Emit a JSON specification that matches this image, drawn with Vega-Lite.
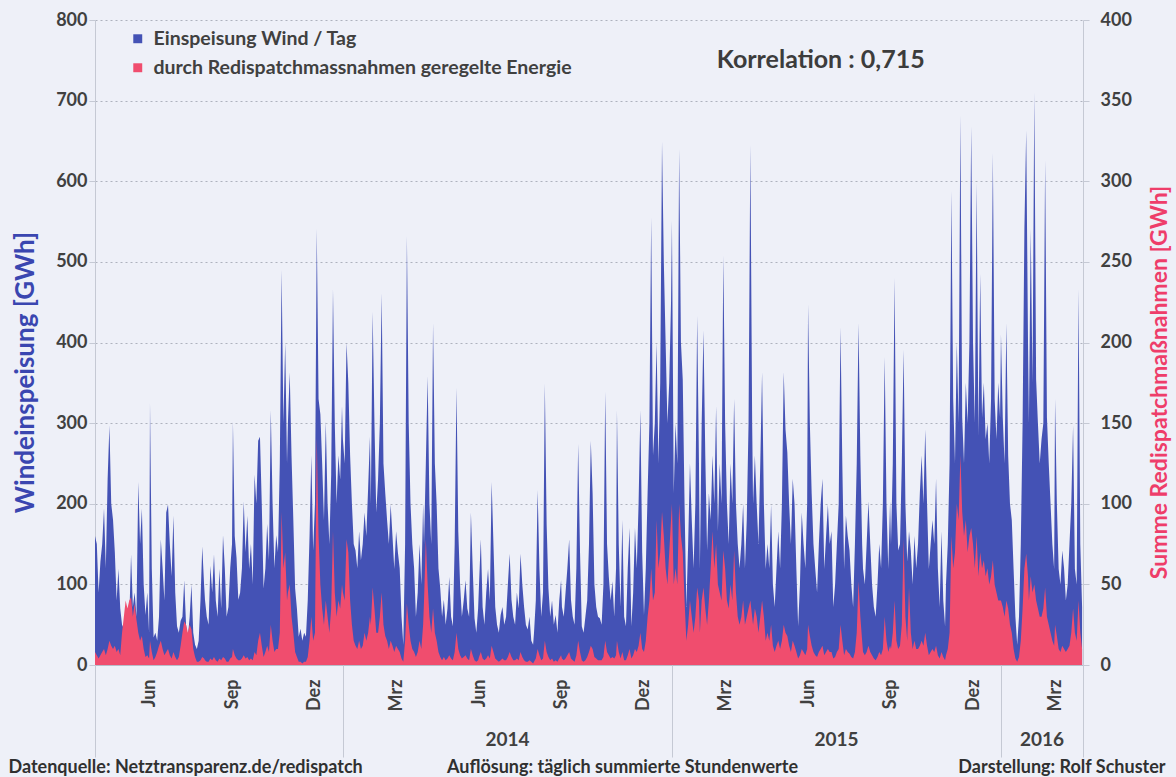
{
"$schema":"https://vega.github.io/schema/vega-lite/v6.json",
"width":988,"height":645,
"autosize":{"type":"none"},
"padding":{"left":95,"top":20,"right":93,"bottom":112},
"background":"#eef0f8",
"config":{"view":{"stroke":null},"font":"Lato","text":{"font":"Lato"}},
"datasets":{"s":[
{"d":"2013-04-01","w":160,"r":8},{"d":"2013-04-03","w":150,"r":6},{"d":"2013-04-05","w":90,"r":4},{"d":"2013-04-07","w":128,"r":6},{"d":"2013-04-09","w":150,"r":8},{"d":"2013-04-11","w":194,"r":10},{"d":"2013-04-13","w":120,"r":6},{"d":"2013-04-15","w":230,"r":10},{"d":"2013-04-17","w":297,"r":15},{"d":"2013-04-19","w":200,"r":12},{"d":"2013-04-21","w":180,"r":10},{"d":"2013-04-23","w":140,"r":12},{"d":"2013-04-25","w":80,"r":8},{"d":"2013-04-27","w":119,"r":10},{"d":"2013-04-29","w":70,"r":6},
{"d":"2013-05-01","w":50,"r":20},{"d":"2013-05-03","w":45,"r":30},{"d":"2013-05-05","w":60,"r":40},{"d":"2013-05-07","w":40,"r":35},{"d":"2013-05-09","w":55,"r":40},{"d":"2013-05-11","w":137,"r":42},{"d":"2013-05-13","w":72,"r":30},{"d":"2013-05-15","w":90,"r":38},{"d":"2013-05-17","w":60,"r":28},{"d":"2013-05-19","w":227,"r":20},{"d":"2013-05-21","w":150,"r":15},{"d":"2013-05-23","w":194,"r":18},{"d":"2013-05-25","w":100,"r":10},{"d":"2013-05-27","w":62,"r":5},{"d":"2013-05-29","w":90,"r":6},{"d":"2013-05-31","w":40,"r":4},
{"d":"2013-06-01","w":325,"r":15},{"d":"2013-06-03","w":120,"r":8},{"d":"2013-06-05","w":34,"r":3},{"d":"2013-06-07","w":40,"r":5},{"d":"2013-06-09","w":30,"r":8},{"d":"2013-06-11","w":60,"r":12},{"d":"2013-06-13","w":156,"r":15},{"d":"2013-06-15","w":120,"r":10},{"d":"2013-06-17","w":80,"r":6},{"d":"2013-06-19","w":189,"r":8},{"d":"2013-06-21","w":199,"r":10},{"d":"2013-06-23","w":150,"r":6},{"d":"2013-06-25","w":110,"r":4},{"d":"2013-06-27","w":185,"r":8},{"d":"2013-06-29","w":90,"r":5},
{"d":"2013-07-01","w":48,"r":3},{"d":"2013-07-03","w":40,"r":5},{"d":"2013-07-05","w":55,"r":12},{"d":"2013-07-07","w":60,"r":20},{"d":"2013-07-09","w":105,"r":27},{"d":"2013-07-11","w":50,"r":25},{"d":"2013-07-13","w":34,"r":20},{"d":"2013-07-15","w":60,"r":25},{"d":"2013-07-17","w":100,"r":22},{"d":"2013-07-19","w":40,"r":10},{"d":"2013-07-21","w":25,"r":5},{"d":"2013-07-23","w":20,"r":2},{"d":"2013-07-25","w":30,"r":2},{"d":"2013-07-27","w":80,"r":3},{"d":"2013-07-29","w":147,"r":5},{"d":"2013-07-31","w":100,"r":4},
{"d":"2013-08-01","w":81,"r":3},{"d":"2013-08-03","w":60,"r":2},{"d":"2013-08-05","w":50,"r":2},{"d":"2013-08-07","w":123,"r":4},{"d":"2013-08-09","w":90,"r":3},{"d":"2013-08-11","w":137,"r":5},{"d":"2013-08-13","w":80,"r":3},{"d":"2013-08-15","w":60,"r":2},{"d":"2013-08-17","w":119,"r":4},{"d":"2013-08-19","w":70,"r":3},{"d":"2013-08-21","w":161,"r":5},{"d":"2013-08-23","w":120,"r":4},{"d":"2013-08-25","w":60,"r":2},{"d":"2013-08-27","w":72,"r":2},{"d":"2013-08-29","w":120,"r":4},{"d":"2013-08-31","w":150,"r":5},
{"d":"2013-09-01","w":302,"r":10},{"d":"2013-09-03","w":160,"r":6},{"d":"2013-09-05","w":133,"r":4},{"d":"2013-09-07","w":81,"r":3},{"d":"2013-09-09","w":90,"r":3},{"d":"2013-09-11","w":120,"r":4},{"d":"2013-09-13","w":203,"r":6},{"d":"2013-09-15","w":140,"r":4},{"d":"2013-09-17","w":185,"r":5},{"d":"2013-09-19","w":119,"r":3},{"d":"2013-09-21","w":150,"r":4},{"d":"2013-09-23","w":100,"r":3},{"d":"2013-09-25","w":236,"r":8},{"d":"2013-09-27","w":200,"r":6},{"d":"2013-09-29","w":278,"r":15},
{"d":"2013-10-01","w":283,"r":20},{"d":"2013-10-03","w":200,"r":12},{"d":"2013-10-05","w":95,"r":5},{"d":"2013-10-07","w":120,"r":8},{"d":"2013-10-09","w":175,"r":12},{"d":"2013-10-11","w":130,"r":8},{"d":"2013-10-13","w":316,"r":25},{"d":"2013-10-15","w":200,"r":15},{"d":"2013-10-17","w":120,"r":8},{"d":"2013-10-19","w":161,"r":10},{"d":"2013-10-21","w":140,"r":10},{"d":"2013-10-23","w":250,"r":20},{"d":"2013-10-25","w":490,"r":95},{"d":"2013-10-27","w":300,"r":60},{"d":"2013-10-29","w":400,"r":70},{"d":"2013-10-31","w":250,"r":40},
{"d":"2013-11-01","w":300,"r":45},{"d":"2013-11-03","w":363,"r":50},{"d":"2013-11-05","w":260,"r":30},{"d":"2013-11-07","w":180,"r":20},{"d":"2013-11-09","w":95,"r":8},{"d":"2013-11-11","w":70,"r":5},{"d":"2013-11-13","w":35,"r":2},{"d":"2013-11-15","w":45,"r":2},{"d":"2013-11-17","w":30,"r":1},{"d":"2013-11-19","w":40,"r":2},{"d":"2013-11-21","w":35,"r":2},{"d":"2013-11-23","w":80,"r":5},{"d":"2013-11-25","w":160,"r":15},{"d":"2013-11-27","w":260,"r":30},{"d":"2013-11-29","w":142,"r":15},
{"d":"2013-12-01","w":200,"r":20},{"d":"2013-12-03","w":541,"r":141},{"d":"2013-12-05","w":330,"r":80},{"d":"2013-12-07","w":311,"r":50},{"d":"2013-12-09","w":250,"r":35},{"d":"2013-12-11","w":180,"r":25},{"d":"2013-12-13","w":302,"r":40},{"d":"2013-12-15","w":200,"r":30},{"d":"2013-12-17","w":150,"r":20},{"d":"2013-12-19","w":236,"r":35},{"d":"2013-12-21","w":466,"r":83},{"d":"2013-12-23","w":300,"r":45},{"d":"2013-12-25","w":200,"r":30},{"d":"2013-12-27","w":260,"r":40},{"d":"2013-12-29","w":230,"r":35},{"d":"2013-12-31","w":321,"r":50},
{"d":"2014-01-01","w":280,"r":45},{"d":"2014-01-03","w":250,"r":40},{"d":"2014-01-05","w":400,"r":78},{"d":"2014-01-07","w":350,"r":70},{"d":"2014-01-09","w":260,"r":40},{"d":"2014-01-11","w":200,"r":25},{"d":"2014-01-13","w":150,"r":15},{"d":"2014-01-15","w":142,"r":12},{"d":"2014-01-17","w":120,"r":10},{"d":"2014-01-19","w":166,"r":15},{"d":"2014-01-21","w":130,"r":10},{"d":"2014-01-23","w":150,"r":12},{"d":"2014-01-25","w":189,"r":20},{"d":"2014-01-27","w":160,"r":15},{"d":"2014-01-29","w":220,"r":20},{"d":"2014-01-31","w":283,"r":30},
{"d":"2014-02-01","w":200,"r":25},{"d":"2014-02-03","w":438,"r":48},{"d":"2014-02-05","w":300,"r":35},{"d":"2014-02-07","w":189,"r":20},{"d":"2014-02-09","w":230,"r":20},{"d":"2014-02-11","w":300,"r":30},{"d":"2014-02-13","w":461,"r":45},{"d":"2014-02-15","w":250,"r":25},{"d":"2014-02-17","w":213,"r":18},{"d":"2014-02-19","w":180,"r":15},{"d":"2014-02-21","w":150,"r":10},{"d":"2014-02-23","w":199,"r":15},{"d":"2014-02-25","w":160,"r":12},{"d":"2014-02-27","w":119,"r":8},
{"d":"2014-03-01","w":166,"r":12},{"d":"2014-03-03","w":140,"r":10},{"d":"2014-03-05","w":120,"r":8},{"d":"2014-03-07","w":60,"r":4},{"d":"2014-03-09","w":25,"r":2},{"d":"2014-03-11","w":150,"r":15},{"d":"2014-03-13","w":532,"r":38},{"d":"2014-03-15","w":300,"r":25},{"d":"2014-03-17","w":200,"r":15},{"d":"2014-03-19","w":150,"r":10},{"d":"2014-03-21","w":120,"r":8},{"d":"2014-03-23","w":60,"r":5},{"d":"2014-03-25","w":90,"r":8},{"d":"2014-03-27","w":150,"r":15},{"d":"2014-03-29","w":100,"r":10},{"d":"2014-03-31","w":200,"r":25},
{"d":"2014-04-01","w":150,"r":40},{"d":"2014-04-03","w":250,"r":78},{"d":"2014-04-05","w":358,"r":50},{"d":"2014-04-07","w":200,"r":30},{"d":"2014-04-09","w":150,"r":20},{"d":"2014-04-11","w":424,"r":35},{"d":"2014-04-13","w":250,"r":20},{"d":"2014-04-15","w":199,"r":15},{"d":"2014-04-17","w":120,"r":8},{"d":"2014-04-19","w":95,"r":5},{"d":"2014-04-21","w":60,"r":3},{"d":"2014-04-23","w":81,"r":5},{"d":"2014-04-25","w":50,"r":3},{"d":"2014-04-27","w":70,"r":4},{"d":"2014-04-29","w":109,"r":6},
{"d":"2014-05-01","w":60,"r":4},{"d":"2014-05-03","w":48,"r":3},{"d":"2014-05-05","w":150,"r":8},{"d":"2014-05-07","w":344,"r":20},{"d":"2014-05-09","w":166,"r":10},{"d":"2014-05-11","w":100,"r":6},{"d":"2014-05-13","w":60,"r":4},{"d":"2014-05-15","w":80,"r":5},{"d":"2014-05-17","w":105,"r":6},{"d":"2014-05-19","w":70,"r":4},{"d":"2014-05-21","w":60,"r":3},{"d":"2014-05-23","w":189,"r":10},{"d":"2014-05-25","w":120,"r":6},{"d":"2014-05-27","w":58,"r":3},{"d":"2014-05-29","w":40,"r":2},{"d":"2014-05-31","w":70,"r":3},
{"d":"2014-06-01","w":100,"r":5},{"d":"2014-06-03","w":156,"r":8},{"d":"2014-06-05","w":72,"r":4},{"d":"2014-06-07","w":50,"r":3},{"d":"2014-06-09","w":90,"r":4},{"d":"2014-06-11","w":119,"r":6},{"d":"2014-06-13","w":80,"r":4},{"d":"2014-06-15","w":227,"r":12},{"d":"2014-06-17","w":150,"r":8},{"d":"2014-06-19","w":72,"r":4},{"d":"2014-06-21","w":50,"r":3},{"d":"2014-06-23","w":40,"r":2},{"d":"2014-06-25","w":62,"r":3},{"d":"2014-06-27","w":72,"r":4},{"d":"2014-06-29","w":50,"r":3},
{"d":"2014-07-01","w":60,"r":3},{"d":"2014-07-03","w":100,"r":5},{"d":"2014-07-05","w":138,"r":8},{"d":"2014-07-07","w":81,"r":5},{"d":"2014-07-09","w":60,"r":3},{"d":"2014-07-11","w":50,"r":3},{"d":"2014-07-13","w":90,"r":4},{"d":"2014-07-15","w":70,"r":3},{"d":"2014-07-17","w":138,"r":8},{"d":"2014-07-19","w":100,"r":5},{"d":"2014-07-21","w":72,"r":3},{"d":"2014-07-23","w":50,"r":2},{"d":"2014-07-25","w":44,"r":2},{"d":"2014-07-27","w":60,"r":3},{"d":"2014-07-29","w":30,"r":2},{"d":"2014-07-31","w":25,"r":1},
{"d":"2014-08-01","w":40,"r":2},{"d":"2014-08-03","w":80,"r":4},{"d":"2014-08-05","w":217,"r":10},{"d":"2014-08-07","w":120,"r":6},{"d":"2014-08-09","w":60,"r":3},{"d":"2014-08-11","w":90,"r":4},{"d":"2014-08-13","w":349,"r":15},{"d":"2014-08-15","w":175,"r":8},{"d":"2014-08-17","w":95,"r":5},{"d":"2014-08-19","w":60,"r":3},{"d":"2014-08-21","w":80,"r":4},{"d":"2014-08-23","w":50,"r":2},{"d":"2014-08-25","w":62,"r":3},{"d":"2014-08-27","w":40,"r":2},{"d":"2014-08-29","w":80,"r":4},{"d":"2014-08-31","w":105,"r":6},
{"d":"2014-09-01","w":72,"r":4},{"d":"2014-09-03","w":60,"r":3},{"d":"2014-09-05","w":90,"r":4},{"d":"2014-09-07","w":120,"r":6},{"d":"2014-09-09","w":156,"r":8},{"d":"2014-09-11","w":81,"r":4},{"d":"2014-09-13","w":60,"r":3},{"d":"2014-09-15","w":50,"r":2},{"d":"2014-09-17","w":120,"r":6},{"d":"2014-09-19","w":274,"r":15},{"d":"2014-09-21","w":142,"r":8},{"d":"2014-09-23","w":48,"r":3},{"d":"2014-09-25","w":40,"r":2},{"d":"2014-09-27","w":60,"r":3},{"d":"2014-09-29","w":80,"r":5},
{"d":"2014-10-01","w":150,"r":8},{"d":"2014-10-03","w":278,"r":12},{"d":"2014-10-05","w":213,"r":10},{"d":"2014-10-07","w":100,"r":5},{"d":"2014-10-09","w":72,"r":4},{"d":"2014-10-11","w":60,"r":3},{"d":"2014-10-13","w":58,"r":3},{"d":"2014-10-15","w":50,"r":3},{"d":"2014-10-17","w":100,"r":5},{"d":"2014-10-19","w":339,"r":15},{"d":"2014-10-21","w":150,"r":8},{"d":"2014-10-23","w":109,"r":6},{"d":"2014-10-25","w":80,"r":4},{"d":"2014-10-27","w":104,"r":5},{"d":"2014-10-29","w":60,"r":4},{"d":"2014-10-31","w":120,"r":6},
{"d":"2014-11-01","w":316,"r":15},{"d":"2014-11-03","w":150,"r":8},{"d":"2014-11-05","w":72,"r":4},{"d":"2014-11-07","w":180,"r":8},{"d":"2014-11-09","w":60,"r":3},{"d":"2014-11-11","w":48,"r":3},{"d":"2014-11-13","w":120,"r":6},{"d":"2014-11-15","w":170,"r":10},{"d":"2014-11-17","w":48,"r":4},{"d":"2014-11-19","w":90,"r":6},{"d":"2014-11-21","w":170,"r":10},{"d":"2014-11-23","w":120,"r":8},{"d":"2014-11-25","w":200,"r":12},{"d":"2014-11-27","w":316,"r":20},{"d":"2014-11-29","w":140,"r":10},
{"d":"2014-12-01","w":62,"r":8},{"d":"2014-12-03","w":120,"r":15},{"d":"2014-12-05","w":213,"r":30},{"d":"2014-12-07","w":300,"r":40},{"d":"2014-12-09","w":555,"r":60},{"d":"2014-12-11","w":260,"r":40},{"d":"2014-12-13","w":300,"r":45},{"d":"2014-12-15","w":400,"r":90},{"d":"2014-12-17","w":250,"r":60},{"d":"2014-12-19","w":350,"r":70},{"d":"2014-12-21","w":649,"r":95},{"d":"2014-12-23","w":500,"r":80},{"d":"2014-12-25","w":400,"r":60},{"d":"2014-12-27","w":300,"r":50},{"d":"2014-12-29","w":350,"r":70},{"d":"2014-12-31","w":450,"r":90},
{"d":"2015-01-01","w":551,"r":100},{"d":"2015-01-03","w":213,"r":50},{"d":"2015-01-05","w":300,"r":60},{"d":"2015-01-07","w":250,"r":50},{"d":"2015-01-09","w":640,"r":100},{"d":"2015-01-11","w":400,"r":80},{"d":"2015-01-13","w":354,"r":70},{"d":"2015-01-15","w":200,"r":40},{"d":"2015-01-17","w":72,"r":15},{"d":"2015-01-19","w":150,"r":25},{"d":"2015-01-21","w":250,"r":40},{"d":"2015-01-23","w":180,"r":30},{"d":"2015-01-25","w":120,"r":20},{"d":"2015-01-27","w":200,"r":30},{"d":"2015-01-29","w":433,"r":48},{"d":"2015-01-31","w":250,"r":40},
{"d":"2015-02-01","w":119,"r":20},{"d":"2015-02-03","w":300,"r":40},{"d":"2015-02-05","w":415,"r":48},{"d":"2015-02-07","w":260,"r":35},{"d":"2015-02-09","w":142,"r":25},{"d":"2015-02-11","w":213,"r":40},{"d":"2015-02-13","w":180,"r":60},{"d":"2015-02-15","w":260,"r":83},{"d":"2015-02-17","w":200,"r":60},{"d":"2015-02-19","w":321,"r":75},{"d":"2015-02-21","w":166,"r":50},{"d":"2015-02-23","w":250,"r":45},{"d":"2015-02-25","w":200,"r":40},{"d":"2015-02-27","w":508,"r":71},
{"d":"2015-03-01","w":300,"r":60},{"d":"2015-03-03","w":200,"r":40},{"d":"2015-03-05","w":150,"r":35},{"d":"2015-03-07","w":250,"r":50},{"d":"2015-03-09","w":200,"r":40},{"d":"2015-03-11","w":330,"r":71},{"d":"2015-03-13","w":200,"r":45},{"d":"2015-03-15","w":150,"r":30},{"d":"2015-03-17","w":120,"r":25},{"d":"2015-03-19","w":150,"r":30},{"d":"2015-03-21","w":200,"r":40},{"d":"2015-03-23","w":120,"r":25},{"d":"2015-03-25","w":180,"r":30},{"d":"2015-03-27","w":300,"r":35},{"d":"2015-03-29","w":645,"r":40},{"d":"2015-03-31","w":300,"r":30},
{"d":"2015-04-01","w":200,"r":25},{"d":"2015-04-03","w":260,"r":35},{"d":"2015-04-05","w":200,"r":30},{"d":"2015-04-07","w":150,"r":20},{"d":"2015-04-09","w":250,"r":30},{"d":"2015-04-11","w":363,"r":40},{"d":"2015-04-13","w":200,"r":30},{"d":"2015-04-15","w":119,"r":15},{"d":"2015-04-17","w":150,"r":20},{"d":"2015-04-19","w":120,"r":15},{"d":"2015-04-21","w":199,"r":25},{"d":"2015-04-23","w":100,"r":12},{"d":"2015-04-25","w":72,"r":8},{"d":"2015-04-27","w":120,"r":12},{"d":"2015-04-29","w":166,"r":15},
{"d":"2015-05-01","w":120,"r":10},{"d":"2015-05-03","w":200,"r":15},{"d":"2015-05-05","w":363,"r":25},{"d":"2015-05-07","w":292,"r":20},{"d":"2015-05-09","w":264,"r":18},{"d":"2015-05-11","w":200,"r":12},{"d":"2015-05-13","w":150,"r":8},{"d":"2015-05-15","w":231,"r":15},{"d":"2015-05-17","w":200,"r":12},{"d":"2015-05-19","w":120,"r":8},{"d":"2015-05-21","w":48,"r":4},{"d":"2015-05-23","w":100,"r":6},{"d":"2015-05-25","w":189,"r":10},{"d":"2015-05-27","w":150,"r":8},{"d":"2015-05-29","w":120,"r":6},{"d":"2015-05-31","w":200,"r":10},
{"d":"2015-06-01","w":447,"r":25},{"d":"2015-06-03","w":300,"r":18},{"d":"2015-06-05","w":213,"r":12},{"d":"2015-06-07","w":150,"r":8},{"d":"2015-06-09","w":119,"r":6},{"d":"2015-06-11","w":90,"r":5},{"d":"2015-06-13","w":150,"r":8},{"d":"2015-06-15","w":200,"r":10},{"d":"2015-06-17","w":231,"r":12},{"d":"2015-06-19","w":119,"r":6},{"d":"2015-06-21","w":160,"r":8},{"d":"2015-06-23","w":199,"r":10},{"d":"2015-06-25","w":150,"r":8},{"d":"2015-06-27","w":166,"r":8},{"d":"2015-06-29","w":72,"r":4},
{"d":"2015-07-01","w":100,"r":5},{"d":"2015-07-03","w":150,"r":8},{"d":"2015-07-05","w":200,"r":10},{"d":"2015-07-07","w":419,"r":25},{"d":"2015-07-09","w":250,"r":15},{"d":"2015-07-11","w":119,"r":6},{"d":"2015-07-13","w":185,"r":10},{"d":"2015-07-15","w":160,"r":8},{"d":"2015-07-17","w":142,"r":7},{"d":"2015-07-19","w":100,"r":5},{"d":"2015-07-21","w":72,"r":4},{"d":"2015-07-23","w":150,"r":8},{"d":"2015-07-25","w":250,"r":20},{"d":"2015-07-27","w":424,"r":52},{"d":"2015-07-29","w":260,"r":30},{"d":"2015-07-31","w":150,"r":15},
{"d":"2015-08-01","w":119,"r":8},{"d":"2015-08-03","w":100,"r":6},{"d":"2015-08-05","w":150,"r":8},{"d":"2015-08-07","w":203,"r":12},{"d":"2015-08-09","w":150,"r":8},{"d":"2015-08-11","w":100,"r":6},{"d":"2015-08-13","w":72,"r":4},{"d":"2015-08-15","w":60,"r":3},{"d":"2015-08-17","w":100,"r":5},{"d":"2015-08-19","w":150,"r":8},{"d":"2015-08-21","w":120,"r":6},{"d":"2015-08-23","w":200,"r":10},{"d":"2015-08-25","w":382,"r":30},{"d":"2015-08-27","w":200,"r":15},{"d":"2015-08-29","w":119,"r":8},{"d":"2015-08-31","w":203,"r":12},
{"d":"2015-09-01","w":150,"r":10},{"d":"2015-09-03","w":250,"r":20},{"d":"2015-09-05","w":480,"r":40},{"d":"2015-09-07","w":200,"r":15},{"d":"2015-09-09","w":142,"r":10},{"d":"2015-09-11","w":150,"r":12},{"d":"2015-09-13","w":250,"r":25},{"d":"2015-09-15","w":391,"r":78},{"d":"2015-09-17","w":200,"r":30},{"d":"2015-09-19","w":128,"r":15},{"d":"2015-09-21","w":166,"r":48},{"d":"2015-09-23","w":142,"r":20},{"d":"2015-09-25","w":100,"r":10},{"d":"2015-09-27","w":160,"r":15},{"d":"2015-09-29","w":120,"r":10},
{"d":"2015-10-01","w":150,"r":10},{"d":"2015-10-03","w":213,"r":12},{"d":"2015-10-05","w":260,"r":15},{"d":"2015-10-07","w":200,"r":12},{"d":"2015-10-09","w":292,"r":20},{"d":"2015-10-11","w":200,"r":12},{"d":"2015-10-13","w":119,"r":6},{"d":"2015-10-15","w":150,"r":8},{"d":"2015-10-17","w":180,"r":10},{"d":"2015-10-19","w":150,"r":8},{"d":"2015-10-21","w":231,"r":12},{"d":"2015-10-23","w":120,"r":6},{"d":"2015-10-25","w":72,"r":4},{"d":"2015-10-27","w":166,"r":8},{"d":"2015-10-29","w":80,"r":5},{"d":"2015-10-31","w":48,"r":3},
{"d":"2015-11-01","w":100,"r":6},{"d":"2015-11-03","w":150,"r":10},{"d":"2015-11-05","w":250,"r":20},{"d":"2015-11-07","w":588,"r":80},{"d":"2015-11-09","w":330,"r":60},{"d":"2015-11-11","w":250,"r":70},{"d":"2015-11-13","w":400,"r":100},{"d":"2015-11-15","w":300,"r":90},{"d":"2015-11-17","w":682,"r":130},{"d":"2015-11-19","w":307,"r":95},{"d":"2015-11-21","w":250,"r":80},{"d":"2015-11-23","w":350,"r":90},{"d":"2015-11-25","w":300,"r":70},{"d":"2015-11-27","w":400,"r":80},{"d":"2015-11-29","w":668,"r":85},
{"d":"2015-12-01","w":400,"r":75},{"d":"2015-12-03","w":300,"r":60},{"d":"2015-12-05","w":598,"r":80},{"d":"2015-12-07","w":283,"r":55},{"d":"2015-12-09","w":485,"r":70},{"d":"2015-12-11","w":307,"r":60},{"d":"2015-12-13","w":350,"r":65},{"d":"2015-12-15","w":280,"r":55},{"d":"2015-12-17","w":300,"r":60},{"d":"2015-12-19","w":250,"r":50},{"d":"2015-12-21","w":330,"r":55},{"d":"2015-12-23","w":635,"r":65},{"d":"2015-12-25","w":330,"r":50},{"d":"2015-12-27","w":280,"r":45},{"d":"2015-12-29","w":350,"r":40},{"d":"2015-12-31","w":307,"r":40},
{"d":"2016-01-01","w":410,"r":40},{"d":"2016-01-03","w":307,"r":36},{"d":"2016-01-05","w":250,"r":30},{"d":"2016-01-07","w":424,"r":40},{"d":"2016-01-09","w":260,"r":35},{"d":"2016-01-11","w":200,"r":25},{"d":"2016-01-13","w":180,"r":20},{"d":"2016-01-15","w":119,"r":10},{"d":"2016-01-17","w":60,"r":4},{"d":"2016-01-19","w":25,"r":2},{"d":"2016-01-21","w":60,"r":5},{"d":"2016-01-23","w":150,"r":15},{"d":"2016-01-25","w":300,"r":35},{"d":"2016-01-27","w":541,"r":60},{"d":"2016-01-29","w":663,"r":69},{"d":"2016-01-31","w":400,"r":55},
{"d":"2016-02-01","w":300,"r":40},{"d":"2016-02-03","w":541,"r":55},{"d":"2016-02-05","w":350,"r":45},{"d":"2016-02-07","w":710,"r":50},{"d":"2016-02-09","w":354,"r":40},{"d":"2016-02-11","w":300,"r":35},{"d":"2016-02-13","w":250,"r":30},{"d":"2016-02-15","w":280,"r":30},{"d":"2016-02-17","w":300,"r":35},{"d":"2016-02-19","w":626,"r":48},{"d":"2016-02-21","w":307,"r":30},{"d":"2016-02-23","w":250,"r":25},{"d":"2016-02-25","w":200,"r":20},{"d":"2016-02-27","w":150,"r":15},{"d":"2016-02-29","w":119,"r":12},
{"d":"2016-03-01","w":330,"r":25},{"d":"2016-03-03","w":200,"r":18},{"d":"2016-03-05","w":119,"r":10},{"d":"2016-03-07","w":100,"r":8},{"d":"2016-03-09","w":142,"r":12},{"d":"2016-03-11","w":120,"r":10},{"d":"2016-03-13","w":80,"r":8},{"d":"2016-03-15","w":100,"r":10},{"d":"2016-03-17","w":150,"r":12},{"d":"2016-03-19","w":200,"r":20},{"d":"2016-03-21","w":297,"r":35},{"d":"2016-03-23","w":119,"r":20},{"d":"2016-03-25","w":100,"r":15},{"d":"2016-03-27","w":466,"r":40},{"d":"2016-03-29","w":150,"r":20},{"d":"2016-03-31","w":72,"r":10}
]},
"layer":[
{
"data":{"name":"s"},
"mark":{"type":"area","interpolate":"linear"},
"encoding":{
"x":{"field":"d","type":"temporal","scale":{"type":"utc","domain":[{"year":2013,"month":4,"date":1,"utc":true},{"year":2016,"month":4,"date":1,"utc":true}]},
"axis":{"orient":"bottom","values":[{"year":2013,"month":6,"date":1,"utc":true},{"year":2013,"month":9,"date":1,"utc":true},{"year":2013,"month":12,"date":1,"utc":true},{"year":2014,"month":3,"date":1,"utc":true},{"year":2014,"month":6,"date":1,"utc":true},{"year":2014,"month":9,"date":1,"utc":true},{"year":2014,"month":12,"date":1,"utc":true},{"year":2015,"month":3,"date":1,"utc":true},{"year":2015,"month":6,"date":1,"utc":true},{"year":2015,"month":9,"date":1,"utc":true},{"year":2015,"month":12,"date":1,"utc":true},{"year":2016,"month":3,"date":1,"utc":true}],
"labelExpr":"['Jan','Feb','Mrz','Apr','Mai','Jun','Jul','Aug','Sep','Okt','Nov','Dez'][utcmonth(datum.value)]",
"labelAngle":270,"labelFont":"Lato","labelFontSize":18,"labelFontWeight":"bold","labelColor":"#404040","labelPadding":14,"labelFlush":false,"labelOverlap":false,
"ticks":false,"grid":false,"domain":true,"domainColor":"#b8bcc8",
"title":"Auflösung: täglich summierte Stundenwerte","titleX":527,"titleY":107,"titleAlign":"center","titleBaseline":"alphabetic","titleFont":"Lato","titleFontSize":18,"titleFontWeight":"bold","titleColor":"#303030"}},
"y":{"field":"w","type":"quantitative","scale":{"domain":[0,800]},
"axis":{"orient":"left","values":[0,100,200,300,400,500,600,700,800],"grid":true,"gridDash":[2,3],"gridColor":"#aeb2be","gridWidth":1,"domainColor":"#c5c9d4","tickColor":"#c5c9d4","tickSize":6,"labelPadding":2,"labelFont":"Lato","labelFontSize":18,"labelFontWeight":"bold","labelColor":"#404040",
"title":"Windeinspeisung [GWh]","titleColor":"#3a46b0","titleFont":"Lato","titleFontSize":26,"titleFontWeight":"bold","titleAngle":270,"titleX":-70,"titleY":352,"titleAlign":"center","titleBaseline":"middle"}},
"color":{"datum":"Einspeisung Wind / Tag","scale":{"domain":["Einspeisung Wind / Tag","durch Redispatchmassnahmen geregelte Energie"],"range":["#4452b5","#f04d6e"]},
"legend":{"orient":"none","legendX":33,"legendY":9,"title":null,"symbolType":"square","symbolSize":80,"symbolStrokeWidth":0,"labelFont":"Lato","labelFontSize":19.5,"labelFontWeight":"bold","labelColor":"#404040","labelLimit":0,"rowPadding":8,"labelOffset":6}}
}
},
{
"data":{"name":"s"},
"mark":{"type":"area","interpolate":"linear"},
"encoding":{
"x":{"field":"d","type":"temporal","scale":{"type":"utc","domain":[{"year":2013,"month":4,"date":1,"utc":true},{"year":2016,"month":4,"date":1,"utc":true}]},
"axis":{"orient":"bottom","values":[{"year":2014,"month":7,"date":2,"utc":true},{"year":2015,"month":7,"date":2,"utc":true},{"year":2016,"month":2,"date":15,"utc":true}],
"labelExpr":"'' + utcyear(datum.value)","labelAngle":0,"labelFont":"Lato","labelFontSize":19,"labelFontWeight":"bold","labelColor":"#404040","labelPadding":65,"labelFlush":false,"labelOverlap":false,
"ticks":false,"grid":false,"domain":false,
"title":"Darstellung: Rolf Schuster","titleX":1070,"titleY":107,"titleAlign":"right","titleBaseline":"alphabetic","titleFont":"Lato","titleFontSize":18,"titleFontWeight":"bold","titleColor":"#303030"}},
"y":{"field":"r","type":"quantitative","scale":{"domain":[0,400]},
"axis":{"orient":"right","values":[0,50,100,150,200,250,300,350,400],"grid":false,"domainColor":"#c5c9d4","tickColor":"#c5c9d4","tickSize":6,"labelPadding":11,"labelFont":"Lato","labelFontSize":18,"labelFontWeight":"bold","labelColor":"#404040",
"title":"Summe Redispatchmaßnahmen [GWh]","titleColor":"#ee3d6a","titleFont":"Lato","titleFontSize":23,"titleFontWeight":"bold","titleAngle":270,"titleX":76,"titleY":362,"titleAlign":"center","titleBaseline":"middle"}},
"color":{"datum":"durch Redispatchmassnahmen geregelte Energie"}
}
},
{
"data":{"values":[{"d":"2015-06-15","v":750,"t":"Korrelation : 0,715"}]},
"mark":{"type":"text","font":"Lato","fontSize":25,"fontWeight":"bold","color":"#3c3c3c","align":"center","baseline":"middle"},
"encoding":{
"x":{"field":"d","type":"temporal","scale":{"type":"utc","domain":[{"year":2013,"month":4,"date":1,"utc":true},{"year":2016,"month":4,"date":1,"utc":true}]},
"axis":{"orient":"bottom","values":[{"year":2013,"month":4,"date":1,"utc":true},{"year":2014,"month":1,"date":1,"utc":true},{"year":2015,"month":1,"date":1,"utc":true},{"year":2016,"month":1,"date":1,"utc":true},{"year":2016,"month":4,"date":1,"utc":true}],
"labels":false,"ticks":true,"tickSize":92,"tickColor":"#c5c9d4","tickWidth":1,"domain":false,"grid":false,
"title":"Datenquelle: Netztransparenz.de/redispatch","titleX":-87,"titleY":107,"titleAlign":"left","titleBaseline":"alphabetic","titleFont":"Lato","titleFontSize":18,"titleFontWeight":"bold","titleColor":"#303030"}},
"y":{"field":"v","type":"quantitative","scale":{"domain":[0,800]},"axis":null},
"text":{"field":"t"}
}
}
],
"resolve":{"scale":{"y":"independent"},"axis":{"x":"independent","y":"independent"}}
}
